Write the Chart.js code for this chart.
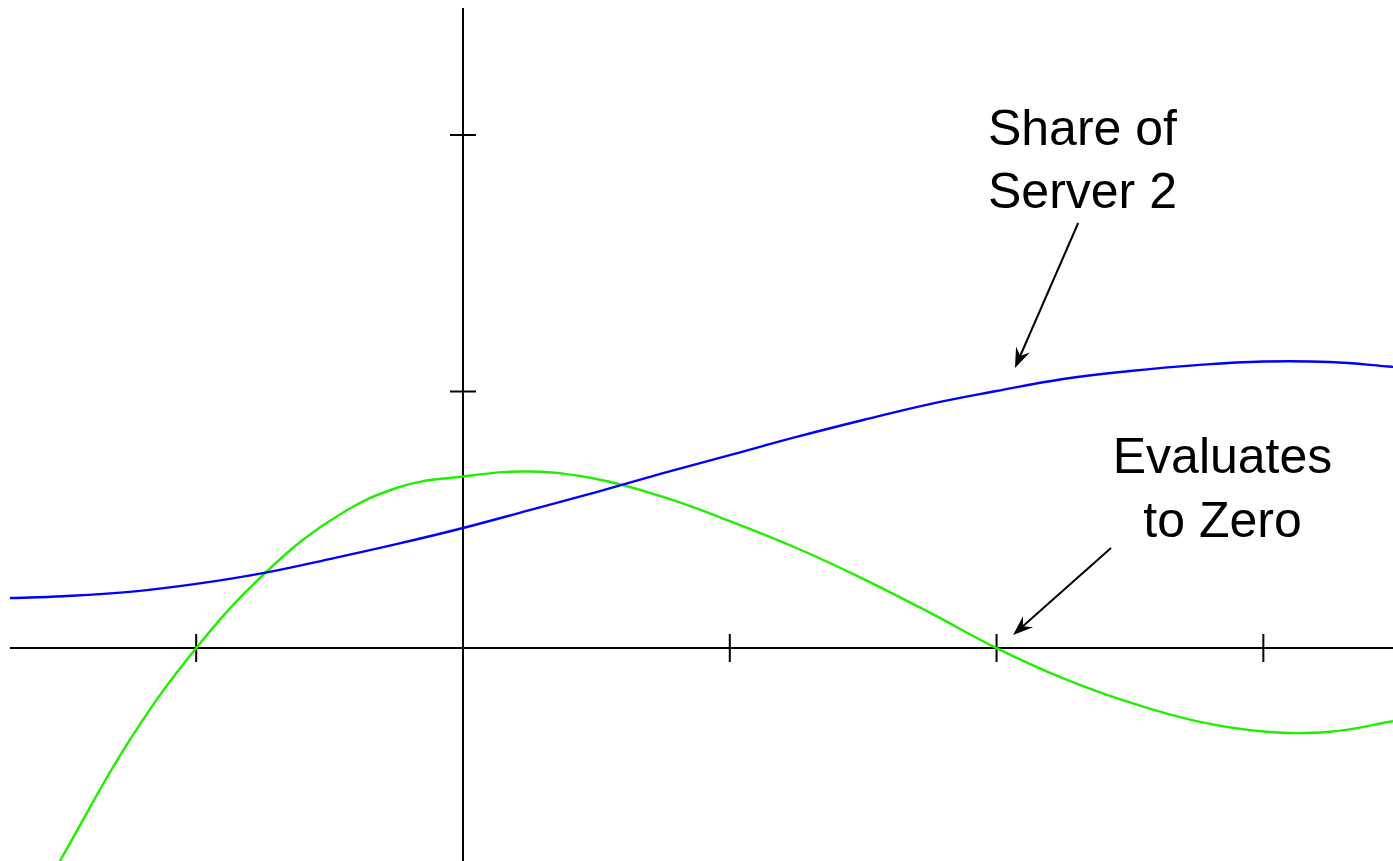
<!DOCTYPE html>
<html>
<head>
<meta charset="utf-8">
<script src="https://cdn.jsdelivr.net/npm/chart.js@4"></script>
<style>
  body { margin: 0; background: #fff; }
  canvas { display: block; }
</style>
</head>
<body>
<canvas id="chart-area" width="1393" height="861"></canvas>
<script>
// curve readings (x, y in axis units)
var greenX = [-1.511, -1.25, -1.0, -0.75, -0.5, -0.25, 0, 0.25, 0.5, 0.75, 1.0, 1.25, 1.5, 1.75, 2.0, 2.25, 2.5, 2.75, 3.0, 3.25, 3.486];
var greenY = [-0.83, -0.36, 0, 0.284, 0.495, 0.624, 0.669, 0.688, 0.659, 0.589, 0.495, 0.39, 0.27, 0.138, 0, -0.118, -0.212, -0.285, -0.325, -0.326, -0.285];
var blueX = [-1.698, -1.5, -1.25, -1.0, -0.75, -0.5, -0.25, 0, 0.25, 0.5, 0.75, 1.0, 1.25, 1.5, 1.75, 2.0, 2.25, 2.5, 2.75, 3.0, 3.25, 3.486];
var blueY = [0.195, 0.202, 0.219, 0.25, 0.292, 0.347, 0.405, 0.468, 0.538, 0.608, 0.682, 0.752, 0.823, 0.889, 0.951, 1.002, 1.049, 1.08, 1.103, 1.117, 1.115, 1.096];

var xTicks = [-1, 1, 2, 3];
var yTicks = [1, 2];

// labels: text lines, centre x, baselines
var labels = [
  { lines: ['Share of', 'Server 2'], x: 2.322, y: [1.961, 1.715] },
  { lines: ['Evaluates', 'to Zero'], x: 2.847, y: [0.682, 0.433] }
];
// arrows: tail -> tip
var arrows = [
  { from: [2.306, 1.657], to: [2.069, 1.092] },
  { from: [2.429, 0.390], to: [2.062, 0.051] }
];

function pts(xs, ys) {
  return xs.map(function (v, i) { return { x: v, y: ys[i] }; });
}

var crossAxes = {
  id: 'crossAxes',
  beforeDatasetsDraw: function (chart) {
    var ctx = chart.ctx, a = chart.chartArea, sx = chart.scales.x, sy = chart.scales.y;
    var x0 = sx.getPixelForValue(0), y0 = sy.getPixelForValue(0);
    ctx.save();
    ctx.strokeStyle = '#000';
    ctx.lineWidth = 2;
    ctx.beginPath();
    ctx.moveTo(a.left, y0); ctx.lineTo(a.right, y0);
    ctx.moveTo(x0, a.top); ctx.lineTo(x0, a.bottom);
    xTicks.forEach(function (t) {
      var p = sx.getPixelForValue(t);
      ctx.moveTo(p, y0 - 14); ctx.lineTo(p, y0 + 14);
    });
    yTicks.forEach(function (t) {
      var p = sy.getPixelForValue(t);
      ctx.moveTo(x0 - 13, p); ctx.lineTo(x0 + 13, p);
    });
    ctx.moveTo(x0, y0); ctx.lineTo(x0 + 16, y0);
    ctx.stroke();
    ctx.restore();
  }
};

var notes = {
  id: 'notes',
  afterDatasetsDraw: function (chart) {
    var ctx = chart.ctx, sx = chart.scales.x, sy = chart.scales.y;
    ctx.save();
    ctx.fillStyle = '#000';
    ctx.strokeStyle = '#000';
    ctx.font = '50px "Liberation Sans", Arial, sans-serif';
    ctx.textAlign = 'center';
    ctx.textBaseline = 'alphabetic';
    labels.forEach(function (l) {
      l.lines.forEach(function (s, i) {
        ctx.fillText(s, sx.getPixelForValue(l.x), sy.getPixelForValue(l.y[i]));
      });
    });
    ctx.lineWidth = 2;
    arrows.forEach(function (ar) {
      var x1 = sx.getPixelForValue(ar.from[0]), y1 = sy.getPixelForValue(ar.from[1]);
      var x2 = sx.getPixelForValue(ar.to[0]), y2 = sy.getPixelForValue(ar.to[1]);
      var dx = x2 - x1, dy = y2 - y1, len = Math.sqrt(dx * dx + dy * dy);
      var ux = dx / len, uy = dy / len, nx = -uy, ny = ux;
      ctx.beginPath();
      ctx.moveTo(x1, y1);
      ctx.lineTo(x2 - ux * 10, y2 - uy * 10);
      ctx.stroke();
      ctx.beginPath();
      ctx.moveTo(x2, y2);
      ctx.lineTo(x2 - ux * 20 + nx * 7.5, y2 - uy * 20 + ny * 7.5);
      ctx.lineTo(x2 - ux * 13, y2 - uy * 13);
      ctx.lineTo(x2 - ux * 20 - nx * 7.5, y2 - uy * 20 - ny * 7.5);
      ctx.closePath();
      ctx.fill();
    });
    ctx.restore();
  }
};

var config = {
  type: 'line',
  data: {
    datasets: [{
      data: pts(blueX, blueY),
      borderColor: '#0000ff',
      borderWidth: 2.4,
      pointRadius: 0,
      tension: 0.4,
      label: 'Share of Server 2'
    }, {
      data: pts(greenX, greenY),
      borderColor: '#22ee00',
      borderWidth: 2.4,
      pointRadius: 0,
      tension: 0.4,
      label: 'Evaluates to Zero'
    }]
  },
  options: {
    responsive: false,
    animation: false,
    layout: { padding: { left: 10, top: 8, right: 0, bottom: 0 } },
    plugins: { legend: { display: false }, tooltip: { enabled: false } },
    scales: {
      x: { type: 'linear', min: -1.698, max: 3.486, display: false },
      y: { type: 'linear', min: -0.830, max: 2.495, display: false }
    }
  },
  plugins: [crossAxes, notes]
};

var ctx = document.getElementById('chart-area').getContext('2d');
window.myChart = new Chart(ctx, config);
</script>
</body>
</html>
